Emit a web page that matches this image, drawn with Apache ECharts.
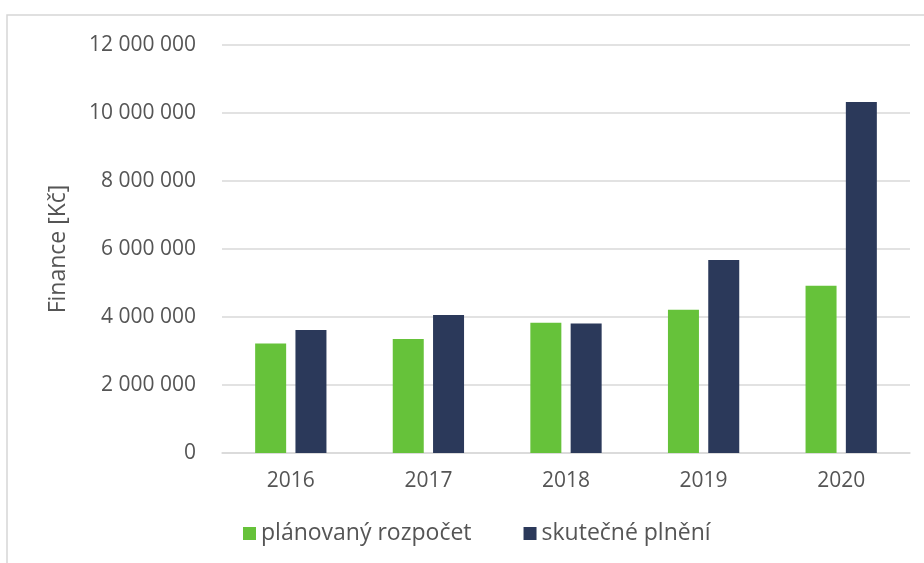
<!DOCTYPE html>
<html>
<head>
<meta charset="utf-8">
<script src="https://cdn.jsdelivr.net/npm/echarts@6/dist/echarts.min.js"></script>
<style>
  html, body { margin: 0; padding: 0; background: #fff; }
  #chart { width: 924px; height: 563px; }
</style>
</head>
<body>
<div id="chart"></div>
<script>
  // roky a hodnoty (Kč)
  var years = ['2016', '2017', '2018', '2019', '2020'];
  var planned = [3220000, 3350000, 3830000, 4210000, 4920000];
  var actual = [3620000, 4060000, 3810000, 5680000, 10320000];
  var seriesNames = ['plánovaný rozpočet', 'skutečné plnění'];

  var textColor = '#555555';
  var font = '"Open Sans", sans-serif';

  function fmt(v) {
    return String(v).replace(/\B(?=(\d{3})+(?!\d))/g, ' ');
  }

  var myChart = echarts.init(document.getElementById('chart'));
  var option = {
    backgroundColor: '#fff',
    animation: false,
    graphic: [{
      type: 'rect',
      shape: { x: 7, y: 15, width: 930, height: 560 },
      style: { fill: 'none', stroke: '#d6d6d6', lineWidth: 1.5 }
    }],
    legend: {
      data: seriesNames,
      bottom: 13,
      left: 238,
      itemWidth: 13,
      itemHeight: 13,
      itemGap: 52,
      icon: 'rect',
      textStyle: { color: textColor, fontSize: 23, fontFamily: font }
    },
    grid: {
      left: 222,
      right: 14,
      top: 45,
      bottom: 110
    },
    xAxis: {
      type: 'category',
      data: years,
      axisLine: { lineStyle: { color: '#d9d9d9', width: 1.5 } },
      axisTick: { show: false },
      axisLabel: { color: textColor, fontSize: 21, fontFamily: font, margin: 18 }
    },
    yAxis: {
      type: 'value',
      min: 0,
      max: 12000000,
      interval: 2000000,
      name: 'Finance [Kč]',
      nameLocation: 'middle',
      nameGap: 152,
      nameRotate: 90,
      nameTextStyle: { color: textColor, fontSize: 23, fontFamily: font },
      axisLine: { show: false },
      axisTick: { show: false },
      splitLine: { lineStyle: { color: '#d9d9d9', width: 1.5 } },
      axisLabel: {
        color: textColor, fontSize: 21, fontFamily: font, margin: 26,
        formatter: function (v) { return fmt(v); }
      }
    },
    series: [
      {
        name: seriesNames[0],
        type: 'bar',
        data: planned,
        barWidth: 31,
        barGap: '30%',
        itemStyle: { color: '#66c23a' }
      },
      {
        name: seriesNames[1],
        type: 'bar',
        data: actual,
        barWidth: 31,
        itemStyle: { color: '#2b395a' }
      }
    ]
  };
  myChart.setOption(option);
</script>
</body>
</html>
